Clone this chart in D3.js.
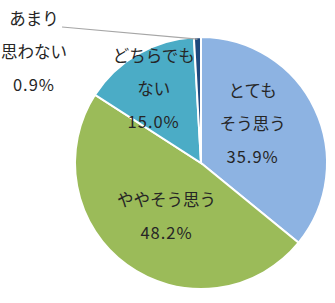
<!DOCTYPE html>
<html>
<head>
<meta charset="utf-8">
<script src="https://cdn.jsdelivr.net/npm/d3@7"></script>
<style>
  body { margin: 0; background: #fff; }
  text { font-family: "Noto Sans CJK JP", "Noto Sans", sans-serif; fill: #262626; font-size: 16.5px; }
</style>
</head>
<body>
<svg width="335" height="303"></svg>
<script>
// データ
var categories = ["とても\nそう思う", "ややそう思う", "どちらでも\nない", "あまり\n思わない"];
var values = [35.9, 48.2, 15.0, 0.9];
var colors = ["#8db3e2", "#9bbb59", "#4bacc6", "#1f497d"];

var svg = d3.select("svg");
var cx = 201, cy = 163, r = 126;

var pie = d3.pie().sort(null).value(function (d) { return d; });
var arcs = pie(values);

var arc = d3.arc().innerRadius(0).outerRadius(r);

var g = svg.append("g").attr("transform", "translate(" + cx + "," + cy + ")");

g.selectAll("path")
    .data(arcs)
    .enter()
    .append("path")
    .attr("d", arc)
    .attr("fill", function (d, i) { return colors[i]; })
    .attr("stroke", "#fff")
    .attr("stroke-width", 2);

// ラベルの位置（中心からの距離と少しのずらし）
var labelR = [66, 62, 88, 0];
var nudge = [[-8, -12], [2, 2], [-3, 1], [0, 0]];
var lineH = 33;

arcs.forEach(function (d, i) {
    var lines = categories[i].split("\n");
    lines.push(values[i].toFixed(1) + "%");
    var x, y;
    if (i === 3) {
        // 外側ラベル＋引き出し線
        x = 34 - cx;
        y = 51 - cy;
        var edge = d3.arc().innerRadius(r - 2).outerRadius(r - 2).centroid(d);
        g.append("line")
            .attr("x1", 62 - cx).attr("y1", 27 - cy)
            .attr("x2", edge[0]).attr("y2", edge[1])
            .attr("stroke", "#a6a6a6")
            .attr("stroke-width", 1.2);
    } else {
        var c = d3.arc().innerRadius(labelR[i]).outerRadius(labelR[i]).centroid(d);
        x = c[0] + nudge[i][0];
        y = c[1] + nudge[i][1];
    }
    var y0 = y - (lines.length - 1) * lineH / 2;
    lines.forEach(function (t, j) {
        g.append("text")
            .attr("x", x)
            .attr("y", y0 + j * lineH)
            .attr("text-anchor", "middle")
            .attr("dominant-baseline", "central")
            .attr("letter-spacing", /%/.test(t) ? 1 : 0)
            .text(t);
    });
});
</script>
</body>
</html>
